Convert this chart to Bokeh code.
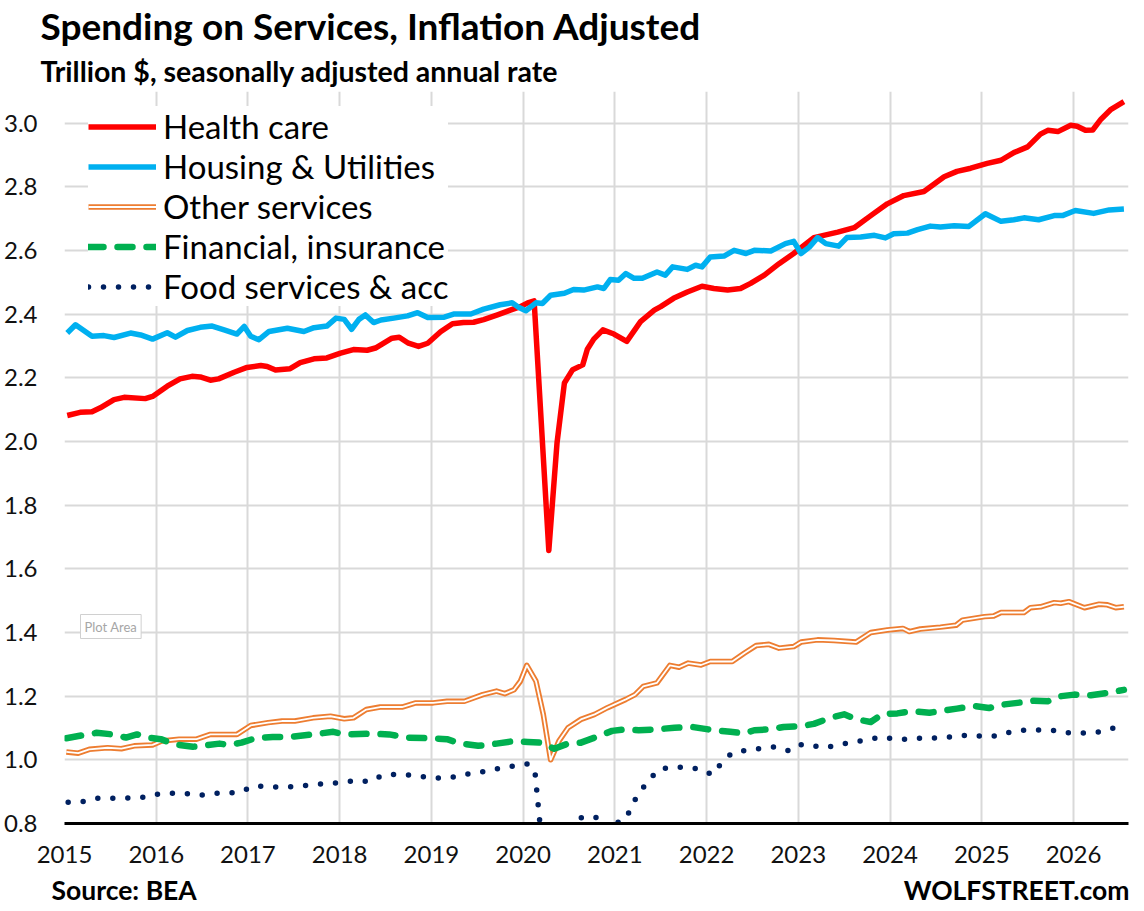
from bokeh.plotting import figure
from bokeh.models import (Legend, LegendItem, Label, FixedTicker, Range1d, PrintfTickFormatter,
                          Title, LinearAxis)
from bokeh.embed import file_html
from bokeh.resources import INLINE

# ---------------- data ----------------
year_ticks = list(range(2015, 2027))
value_ticks = [0.8, 1.0, 1.2, 1.4, 1.6, 1.8, 2.0, 2.2, 2.4, 2.6, 2.8, 3.0]

health_x = [2015.03, 2015.17, 2015.30, 2015.39, 2015.54, 2015.65, 2015.88, 2015.96, 2016.12, 2016.26,
            2016.39, 2016.48, 2016.59, 2016.68, 2016.85, 2016.99, 2017.14, 2017.21, 2017.30, 2017.46,
            2017.57, 2017.72, 2017.86, 2018.01, 2018.15, 2018.30, 2018.39, 2018.57, 2018.65, 2018.75,
            2018.86, 2018.96, 2019.10, 2019.23, 2019.35, 2019.46, 2019.57, 2019.72, 2019.86, 2019.97,
            2020.05, 2020.12, 2020.28, 2020.37, 2020.45, 2020.54, 2020.65, 2020.70, 2020.77, 2020.87,
            2020.99, 2021.13, 2021.28, 2021.43, 2021.50, 2021.64, 2021.79, 2021.95, 2022.08, 2022.23,
            2022.37, 2022.48, 2022.63, 2022.79, 2022.95, 2023.17, 2023.43, 2023.61, 2023.79, 2023.97,
            2024.15, 2024.37, 2024.59, 2024.73, 2024.88, 2025.06, 2025.21, 2025.35, 2025.50, 2025.64,
            2025.72, 2025.83, 2025.97, 2026.04, 2026.13, 2026.21, 2026.30, 2026.41, 2026.55]
health_y = [2.082, 2.092, 2.094, 2.106, 2.132, 2.139, 2.135, 2.142, 2.174, 2.197,
            2.205, 2.203, 2.193, 2.197, 2.218, 2.233, 2.239, 2.236, 2.225, 2.229,
            2.248, 2.260, 2.263, 2.278, 2.289, 2.287, 2.294, 2.325, 2.328, 2.309,
            2.299, 2.309, 2.345, 2.370, 2.374, 2.375, 2.383, 2.398, 2.413, 2.424,
            2.436, 2.442, 1.658, 1.997, 2.184, 2.226, 2.241, 2.290, 2.322, 2.351,
            2.338, 2.315, 2.377, 2.413, 2.424, 2.450, 2.470, 2.488, 2.481, 2.476,
            2.481, 2.497, 2.523, 2.559, 2.591, 2.641, 2.658, 2.672, 2.710, 2.747,
            2.773, 2.786, 2.832, 2.849, 2.859, 2.874, 2.884, 2.908, 2.926, 2.966,
            2.978, 2.974, 2.994, 2.991, 2.978, 2.979, 3.013, 3.044, 3.068]

housing_x = [2015.03, 2015.12, 2015.30, 2015.43, 2015.54, 2015.72, 2015.83, 2015.96, 2016.12, 2016.21,
             2016.34, 2016.48, 2016.61, 2016.74, 2016.88, 2016.96, 2017.03, 2017.12, 2017.23, 2017.43,
             2017.61, 2017.72, 2017.86, 2017.96, 2018.05, 2018.13, 2018.21, 2018.28, 2018.37, 2018.45,
             2018.59, 2018.74, 2018.85, 2018.96, 2019.14, 2019.25, 2019.43, 2019.57, 2019.75, 2019.88,
             2019.95, 2020.03, 2020.14, 2020.21, 2020.30, 2020.45, 2020.55, 2020.66, 2020.81, 2020.88,
             2020.95, 2021.04, 2021.12, 2021.21, 2021.30, 2021.46, 2021.55, 2021.63, 2021.79, 2021.88,
             2021.95, 2022.04, 2022.19, 2022.30, 2022.43, 2022.52, 2022.70, 2022.86, 2022.95, 2023.03,
             2023.12, 2023.21, 2023.30, 2023.44, 2023.53, 2023.68, 2023.83, 2023.95, 2024.04, 2024.19,
             2024.30, 2024.44, 2024.55, 2024.70, 2024.86, 2025.04, 2025.21, 2025.35, 2025.46, 2025.62,
             2025.79, 2025.88, 2026.02, 2026.22, 2026.39, 2026.55]
housing_y = [2.341, 2.367, 2.331, 2.333, 2.327, 2.341, 2.335, 2.322, 2.342, 2.328,
             2.349, 2.359, 2.363, 2.351, 2.338, 2.362, 2.331, 2.320, 2.346, 2.356,
             2.346, 2.358, 2.363, 2.388, 2.384, 2.353, 2.384, 2.398, 2.374, 2.382,
             2.388, 2.395, 2.405, 2.390, 2.391, 2.401, 2.401, 2.416, 2.430, 2.436,
             2.422, 2.411, 2.436, 2.434, 2.460, 2.466, 2.478, 2.476, 2.486, 2.481,
             2.509, 2.507, 2.528, 2.513, 2.513, 2.533, 2.523, 2.549, 2.541, 2.554,
             2.549, 2.580, 2.583, 2.601, 2.591, 2.601, 2.599, 2.622, 2.629, 2.591,
             2.611, 2.641, 2.622, 2.614, 2.641, 2.643, 2.648, 2.640, 2.653, 2.655,
             2.666, 2.677, 2.674, 2.678, 2.676, 2.716, 2.692, 2.697, 2.703, 2.697,
             2.710, 2.710, 2.726, 2.717, 2.728, 2.731]

other_x = [2015.02, 2015.15, 2015.27, 2015.47, 2015.62, 2015.76, 2015.96, 2016.06, 2016.25, 2016.44,
           2016.59, 2016.88, 2017.03, 2017.22, 2017.37, 2017.51, 2017.71, 2017.90, 2018.05, 2018.15,
           2018.29, 2018.44, 2018.68, 2018.83, 2019.02, 2019.17, 2019.36, 2019.56, 2019.71, 2019.80,
           2019.90, 2019.97, 2020.04, 2020.14, 2020.22, 2020.30, 2020.39, 2020.49, 2020.63, 2020.78,
           2020.92, 2021.12, 2021.22, 2021.31, 2021.46, 2021.60, 2021.70, 2021.80, 2021.94, 2022.04,
           2022.28, 2022.41, 2022.54, 2022.68, 2022.79, 2022.95, 2023.03, 2023.21, 2023.39, 2023.63,
           2023.79, 2023.97, 2024.14, 2024.21, 2024.33, 2024.55, 2024.72, 2024.79, 2025.03, 2025.13,
           2025.21, 2025.46, 2025.53, 2025.64, 2025.79, 2025.86, 2025.95, 2026.12, 2026.28, 2026.37,
           2026.46, 2026.55]
other_y = [1.025, 1.021, 1.033, 1.038, 1.035, 1.044, 1.047, 1.059, 1.065, 1.065,
           1.080, 1.080, 1.108, 1.117, 1.122, 1.122, 1.132, 1.137, 1.129, 1.132,
           1.158, 1.166, 1.166, 1.179, 1.179, 1.184, 1.184, 1.205, 1.216, 1.208,
           1.220, 1.247, 1.297, 1.247, 1.143, 1.000, 1.059, 1.101, 1.127, 1.143,
           1.164, 1.190, 1.205, 1.231, 1.242, 1.297, 1.291, 1.304, 1.298, 1.309,
           1.309, 1.335, 1.359, 1.363, 1.351, 1.356, 1.370, 1.377, 1.375, 1.370,
           1.400, 1.408, 1.413, 1.403, 1.411, 1.417, 1.423, 1.439, 1.450, 1.452,
           1.463, 1.463, 1.478, 1.481, 1.494, 1.492, 1.497, 1.478, 1.489, 1.487,
           1.478, 1.481]

financial_x = [2015.02, 2015.35, 2015.52, 2015.67, 2015.79, 2015.91, 2016.05, 2016.20, 2016.40, 2016.54,
               2016.69, 2016.79, 2016.93, 2017.08, 2017.27, 2017.46, 2017.71, 2017.93, 2018.05, 2018.34,
               2018.54, 2018.73, 2018.98, 2019.17, 2019.32, 2019.51, 2019.71, 2019.90, 2020.05, 2020.19,
               2020.34, 2020.49, 2020.63, 2020.78, 2020.97, 2021.12, 2021.26, 2021.46, 2021.65, 2021.85,
               2022.08, 2022.26, 2022.41, 2022.52, 2022.70, 2022.84, 2023.03, 2023.17, 2023.35, 2023.50,
               2023.64, 2023.79, 2023.92, 2024.08, 2024.24, 2024.43, 2024.59, 2024.73, 2024.92, 2025.08,
               2025.24, 2025.39, 2025.57, 2025.72, 2025.86, 2026.01, 2026.19, 2026.37, 2026.55]
financial_y = [1.068, 1.085, 1.080, 1.070, 1.080, 1.070, 1.065, 1.049, 1.041, 1.046,
               1.051, 1.047, 1.054, 1.068, 1.072, 1.072, 1.080, 1.088, 1.080, 1.082,
               1.080, 1.070, 1.068, 1.065, 1.051, 1.044, 1.051, 1.059, 1.056, 1.054,
               1.035, 1.051, 1.054, 1.070, 1.091, 1.096, 1.093, 1.096, 1.101, 1.103,
               1.093, 1.088, 1.083, 1.093, 1.096, 1.103, 1.106, 1.113, 1.132, 1.143,
               1.127, 1.119, 1.144, 1.146, 1.153, 1.148, 1.155, 1.161, 1.169, 1.163,
               1.174, 1.179, 1.186, 1.184, 1.200, 1.205, 1.203, 1.210, 1.220]

food_x = [2015.04, 2015.20, 2015.36, 2015.52, 2015.68, 2015.85, 2015.99, 2016.14, 2016.30, 2016.46,
          2016.62, 2016.78, 2016.93, 2017.05, 2017.21, 2017.37, 2017.54, 2017.70, 2017.87, 2018.03,
          2018.18, 2018.33, 2018.47, 2018.63, 2018.79, 2018.95, 2019.11, 2019.27, 2019.42, 2019.58,
          2019.74, 2019.90, 2020.06, 2020.13, 2020.21, 2020.29, 2020.37, 2020.46, 2020.54, 2020.63,
          2020.71, 2020.79, 2020.87, 2020.96, 2021.04, 2021.12, 2021.21, 2021.29, 2021.37, 2021.48,
          2021.64, 2021.80, 2021.95, 2022.06, 2022.16, 2022.28, 2022.44, 2022.59, 2022.74, 2022.90,
          2023.01, 2023.11, 2023.26, 2023.42, 2023.58, 2023.74, 2023.90, 2024.05, 2024.21, 2024.37,
          2024.53, 2024.70, 2024.86, 2025.03, 2025.17, 2025.32, 2025.48, 2025.64, 2025.81, 2025.96,
          2026.13, 2026.29, 2026.44, 2026.55]
food_y = [0.867, 0.869, 0.879, 0.879, 0.880, 0.882, 0.891, 0.895, 0.895, 0.888,
          0.895, 0.895, 0.900, 0.917, 0.917, 0.913, 0.917, 0.922, 0.926, 0.929,
          0.936, 0.931, 0.952, 0.955, 0.952, 0.945, 0.942, 0.947, 0.957, 0.963,
          0.973, 0.981, 0.988, 0.960, 0.720, 0.520, 0.600, 0.720, 0.790, 0.818,
          0.822, 0.820, 0.795, 0.780, 0.805, 0.815, 0.870, 0.905, 0.936, 0.970,
          0.978, 0.976, 0.970, 0.953, 0.989, 1.023, 1.030, 1.036, 1.041, 1.028,
          1.047, 1.049, 1.038, 1.045, 1.056, 1.062, 1.072, 1.065, 1.065, 1.069,
          1.069, 1.073, 1.078, 1.073, 1.076, 1.088, 1.094, 1.094, 1.092, 1.084,
          1.084, 1.088, 1.100, 1.102]

labels = ["Health care", "Housing & Utilities", "Other services",
          "Financial, insurance", "Food services & acc"]
title_text = "Spending on Services, Inflation Adjusted"
subtitle_text = "Trillion $, seasonally adjusted annual rate"
footer_texts = {2015.65: "Source: BEA", 2025.38: "WOLFSTREET.com"}

# ---------------- figure ----------------
FONT = "Lato"
p = figure(width=1144, height=911, output_backend="svg", toolbar_location=None, title=None,
           x_range=Range1d(2015, 2026.6), y_range=Range1d(0.8, 3.1),
           min_border_left=64, min_border_right=16, min_border_top=87, min_border_bottom=88)
p.outline_line_color = None
p.background_fill_color = "white"

p.xaxis.ticker = FixedTicker(ticks=year_ticks)
p.yaxis.ticker = FixedTicker(ticks=value_ticks)
p.yaxis.formatter = PrintfTickFormatter(format="%.1f")
p.grid.grid_line_color = "#d9d9d9"
p.grid.grid_line_width = 2

p.xaxis.axis_line_color = "black"
p.xaxis.axis_line_width = 3
p.xaxis.major_label_standoff = 22
p.yaxis.axis_line_color = None
p.yaxis.major_label_standoff = 27
for ax in (p.xaxis, p.yaxis):
    ax.major_tick_line_color = None
    ax.minor_tick_line_color = None
    ax.major_tick_out = 0
    ax.major_tick_in = 0
    ax.minor_tick_out = 0
    ax.minor_tick_in = 0
    ax.major_label_text_font = FONT
    ax.major_label_text_font_size = "24px"
    ax.major_label_text_color = "#111111"

# footer line (source / site) as labels of a second, invisible bottom axis
foot = LinearAxis(ticker=FixedTicker(ticks=list(footer_texts.keys())),
                  major_label_overrides=footer_texts)
foot.axis_line_color = None
foot.major_tick_line_color = None
foot.minor_tick_line_color = None
foot.major_tick_out = 0
foot.major_tick_in = 0
foot.minor_tick_out = 0
foot.minor_tick_in = 0
foot.major_label_standoff = 8
foot.major_label_text_font = FONT
foot.major_label_text_font_size = "26.5px"
foot.major_label_text_font_style = "bold"
foot.major_label_text_color = "black"
p.add_layout(foot, "below")

# titles (subtitle first: it sits closest to the plot)
p.add_layout(Title(text=subtitle_text, align="left", offset=-24, standoff=8,
                   text_font=FONT, text_font_size="28.5px", text_font_style="bold",
                   text_color="black", vertical_align="bottom"), "above")
p.add_layout(Title(text=title_text, align="left", offset=-24, standoff=0,
                   text_font=FONT, text_font_size="37px", text_font_style="bold",
                   text_color="black", vertical_align="bottom"), "above")

r_health = p.line(health_x, health_y, line_color="#FF0000", line_width=5.5, line_join="round")
r_housing = p.line(housing_x, housing_y, line_color="#00B0F0", line_width=5.5, line_join="round")
r_other_o = p.line(other_x, other_y, line_color="#ED7D31", line_width=5.5, line_join="round")
r_other_i = p.line(other_x, other_y, line_color="white", line_width=1.8, line_join="round")
r_fin = p.line(financial_x, financial_y, line_color="#00B050", line_width=6.5,
               line_dash="15 14", line_cap="round", line_join="round")
r_food = p.line(food_x, food_y, line_color="#002060", line_width=5.5,
                line_dash="0 15", line_cap="round", line_join="round")

legend = Legend(items=[
    LegendItem(label=labels[0], renderers=[r_health]),
    LegendItem(label=labels[1], renderers=[r_housing]),
    LegendItem(label=labels[2], renderers=[r_other_o, r_other_i]),
    LegendItem(label=labels[3], renderers=[r_fin]),
    LegendItem(label=labels[4], renderers=[r_food]),
], location=(24, 517))
legend.margin = 0
legend.padding = 6
legend.spacing = 0
legend.glyph_width = 68
legend.glyph_height = 33
legend.label_height = 33
legend.label_standoff = 7
legend.label_text_font = FONT
legend.label_text_font_size = "33px"
legend.label_text_color = "black"
legend.border_line_color = None
legend.background_fill_color = "white"
legend.background_fill_alpha = 1.0
p.add_layout(legend)

p.add_layout(Label(x=16, y=197, x_units="screen", y_units="screen", text="Plot Area",
                   text_font=FONT, text_font_size="13px", text_color="#a6a6a6",
                   text_baseline="alphabetic", border_line_color="#d0d0d0",
                   background_fill_color="white", padding=4))

open("out.html", "w").write(file_html(p, INLINE))
